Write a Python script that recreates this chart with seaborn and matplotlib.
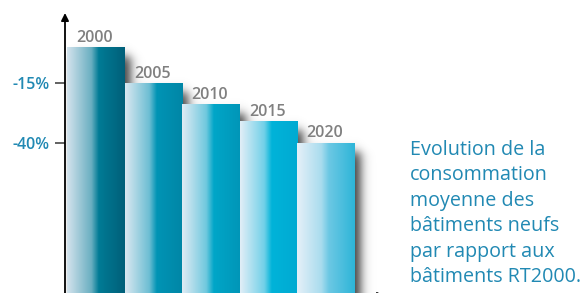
import numpy as np
import matplotlib
matplotlib.use("Agg")
import matplotlib.pyplot as plt
from matplotlib.colors import LinearSegmentedColormap, to_rgb
import seaborn as sns

# data
years = ["2000", "2005", "2010", "2015", "2020"]
consumption = [100, 85, 76, 69, 60]   # relative to RT2000 (=100)
tick_values = [85, 60]
tick_labels = ["-15%", "-40%"]
caption = ("Evolution de la\nconsommation\nmoyenne des\nbâtiments neufs\n"
           "par rapport aux\nbâtiments RT2000.")

# bar colours: (light left, base, darker right)
bar_colors = [
    ("#d4e3ed", "#007b95", "#005f79"),
    ("#dae8f1", "#0094b5", "#0086a6"),
    ("#dfebf4", "#00a6c8", "#0096b8"),
    ("#e2eef7", "#00b3d9", "#00aad2"),
    ("#e6f0f8", "#6cc8e4", "#2db5d8"),
]
text_blue = "#2189b3"

sns.set_style("white")
plt.rcParams["font.family"] = ["Open Sans", "DejaVu Sans"]

fig = plt.figure(figsize=(5.81, 2.93), dpi=100)
ax = fig.add_axes([65 / 581, -3 / 293, 320 / 581, 283 / 293])

sns.barplot(x=years, y=consumption, width=1.0, ax=ax, color="white",
            linewidth=0, saturation=1)

ymin, ymax = -3.75, 114.2
xmin, xmax = -0.535, -0.535 + 320 / 57.6
ax.set_xlim(xmin, xmax)
ax.set_ylim(ymin, ymax)

bars = list(ax.patches)

# soft drop shadow behind bars
px_x = 57.6
px_y = 2.4
nx, ny = 700, 300
gx = np.linspace(xmin, xmax, nx)
gy = np.linspace(ymin, ymax, ny)
X, Y = np.meshgrid(gx, gy)
keep = np.ones_like(X)
dx, sx = 6 / px_x, 6 / px_x
dy, sy = 9 / px_y, 6 / px_y
for p in bars:
    x0 = p.get_x() + dx
    x1 = p.get_x() + p.get_width() + dx
    top = p.get_height() - dy
    ax_ = 0.5 * (np.tanh((X - x0) / sx) - np.tanh((X - x1) / sx))
    ay_ = 0.5 * (1 + np.tanh((top - Y) / sy))
    keep *= 1 - 0.75 * ax_ * ay_
shadow = np.zeros((ny, nx, 4))
shadow[..., 3] = 1 - keep
ax.imshow(shadow, extent=[xmin, xmax, ymin, ymax], origin="lower",
          aspect="auto", zorder=1, interpolation="bilinear")

# gradient fill of each bar
for i, (p, (light, base, dark)) in enumerate(zip(bars, bar_colors)):
    mid = tuple(0.5 * a + 0.5 * b for a, b in zip(to_rgb(light), to_rgb(base)))
    cmap = LinearSegmentedColormap.from_list(
        "g", [(0, light), (0.42, mid), (0.55, base), (1.0, dark)])
    grad = np.linspace(0, 1, 256).reshape(1, -1)
    x0 = p.get_x()
    ax.imshow(grad, cmap=cmap, extent=[x0, x0 + p.get_width(), ymin, p.get_height()],
              origin="lower", aspect="auto", zorder=2, interpolation="bilinear")
    p.set_visible(False)
    ax.annotate(years[i], (x0 + p.get_width() / 2 - 0.02, p.get_height()),
                xytext=(0, 4), textcoords="offset points", ha="center",
                va="baseline", fontsize=11.5, color="#808080",
                fontweight="semibold", zorder=3)

ax.set_xlim(xmin, xmax)
ax.set_ylim(ymin, ymax)

# axes with arrows
sns.despine(ax=ax, left=True, bottom=True, top=True, right=True)
ax.annotate("", xy=(0, 1), xytext=(0, 0), xycoords="axes fraction",
            arrowprops=dict(arrowstyle="-|>", color="black", lw=1.3,
                            mutation_scale=11, shrinkA=0, shrinkB=0),
            zorder=4, annotation_clip=False)
ax.annotate("", xy=(1, 0), xytext=(0, 0), xycoords="axes fraction",
            arrowprops=dict(arrowstyle="-|>", color="black", lw=1.3,
                            mutation_scale=11, shrinkA=0, shrinkB=0),
            zorder=4, annotation_clip=False)

ax.set_xticks([])
ax.set_yticks(tick_values)
ax.set_yticklabels(tick_labels, fontsize=11.5, color=text_blue, fontweight="semibold")
ax.tick_params(axis="y", length=7, width=1.3, color="#555555", pad=4, left=True)
ax.set_xlabel("")
ax.set_ylabel("")
ax.grid(False)

fig.text(410 / 581, 1 - 140 / 293, caption, ha="left", va="top",
         fontsize=14.2, color=text_blue, linespacing=1.36)

fig.savefig("out.png", dpi=100)
